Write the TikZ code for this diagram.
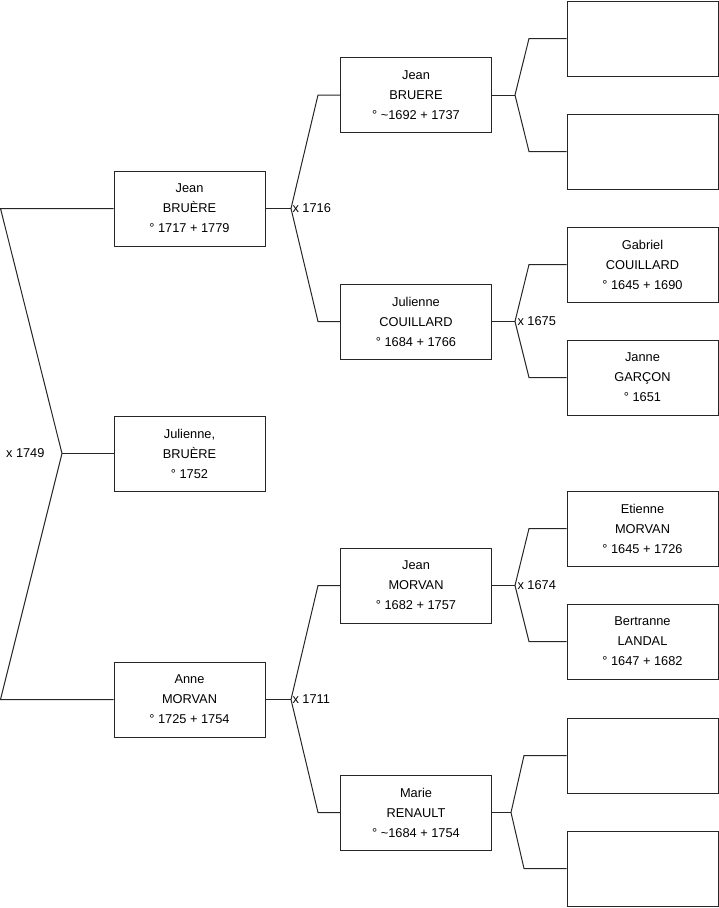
\documentclass[tikz,border=0pt]{standalone}
\usepackage{fontspec}
\setmainfont{Liberation Sans}
\begin{document}
\begin{tikzpicture}[x=1pt,y=-1pt,line width=1pt,font=\fontsize{12.8}{20}\selectfont,
  person/.style={draw=black!85,fill=white,minimum width=151pt,minimum height=75pt,align=center,inner sep=0pt},
  link/.style={draw=black!85,line join=miter},
  marriage/.style={anchor=west,inner sep=1pt}]
\useasboundingbox (0,0) rectangle (719,908);
% generation 1
\node[person] (p1) at (189.5,208.5) {Jean\\BRUÈRE\\° 1717 + 1779};
\node[person] (p2) at (189.5,453.5) {Julienne,\\BRUÈRE\\° 1752};
\node[person] (p3) at (189.5,699.5) {Anne\\MORVAN\\° 1725 + 1754};
% generation 2
\node[person] (b1) at (416,95) {Jean\\BRUERE\\° \textasciitilde1692 + 1737};
\node[person] (b2) at (416,321.5) {Julienne\\COUILLARD\\° 1684 + 1766};
\node[person] (b3) at (416,585.5) {Jean\\MORVAN\\° 1682 + 1757};
\node[person] (b4) at (416,812.5) {Marie\\RENAULT\\° \textasciitilde1684 + 1754};
% generation 3
\node[person] (a1) at (642.5,38.5) {};
\node[person] (a2) at (642.5,151.5) {};
\node[person] (a3) at (642.5,264.5) {Gabriel\\COUILLARD\\° 1645 + 1690};
\node[person] (a4) at (642.5,377.5) {Janne\\GARÇON\\° 1651};
\node[person] (a5) at (642.5,528.5) {Etienne\\MORVAN\\° 1645 + 1726};
\node[person] (a6) at (642.5,641.5) {Bertranne\\LANDAL\\° 1647 + 1682};
\node[person] (a7) at (642.5,755.5) {};
\node[person] (a8) at (642.5,868.5) {};
% root fork
\coordinate (r) at (62,453.5);
\coordinate (rt) at (0.5,208.5);
\coordinate (rb) at (0.5,699.5);
\draw[link] (p1.west) -- (rt) -- (r) -- (rb) -- (p3.west);
\draw[link] (r) -- (p2.west);
\node[anchor=east,inner sep=0pt] (m1749) at ([xshift=-17pt]r) {x 1749};
% parent forks
\foreach \p/\vx/\ex/\c/\d in {p1/291/318/b1/b2,p3/291/318/b3/b4,b1/515/529/a1/a2,
    b2/515/529/a3/a4,b3/515/529/a5/a6,b4/511/524/a7/a8}{
  \path (\vx,0) coordinate (vx) (\ex,0) coordinate (ex);
  \draw[link] (\c.west) -- (\c.west -| ex) -- (\p.east -| vx) -- (\d.west -| ex) -- (\d.west);
  \draw[link] (\p.east) -- (\p.east -| vx);
}
\node[marriage] (m1716) at (291,208.5) {x 1716};
\node[marriage] (m1711) at (291,699.5) {x 1711};
\node[marriage] (m1675) at (516,321.5) {x 1675};
\node[marriage] (m1674) at (516,585.5) {x 1674};
\end{tikzpicture}
\end{document}
